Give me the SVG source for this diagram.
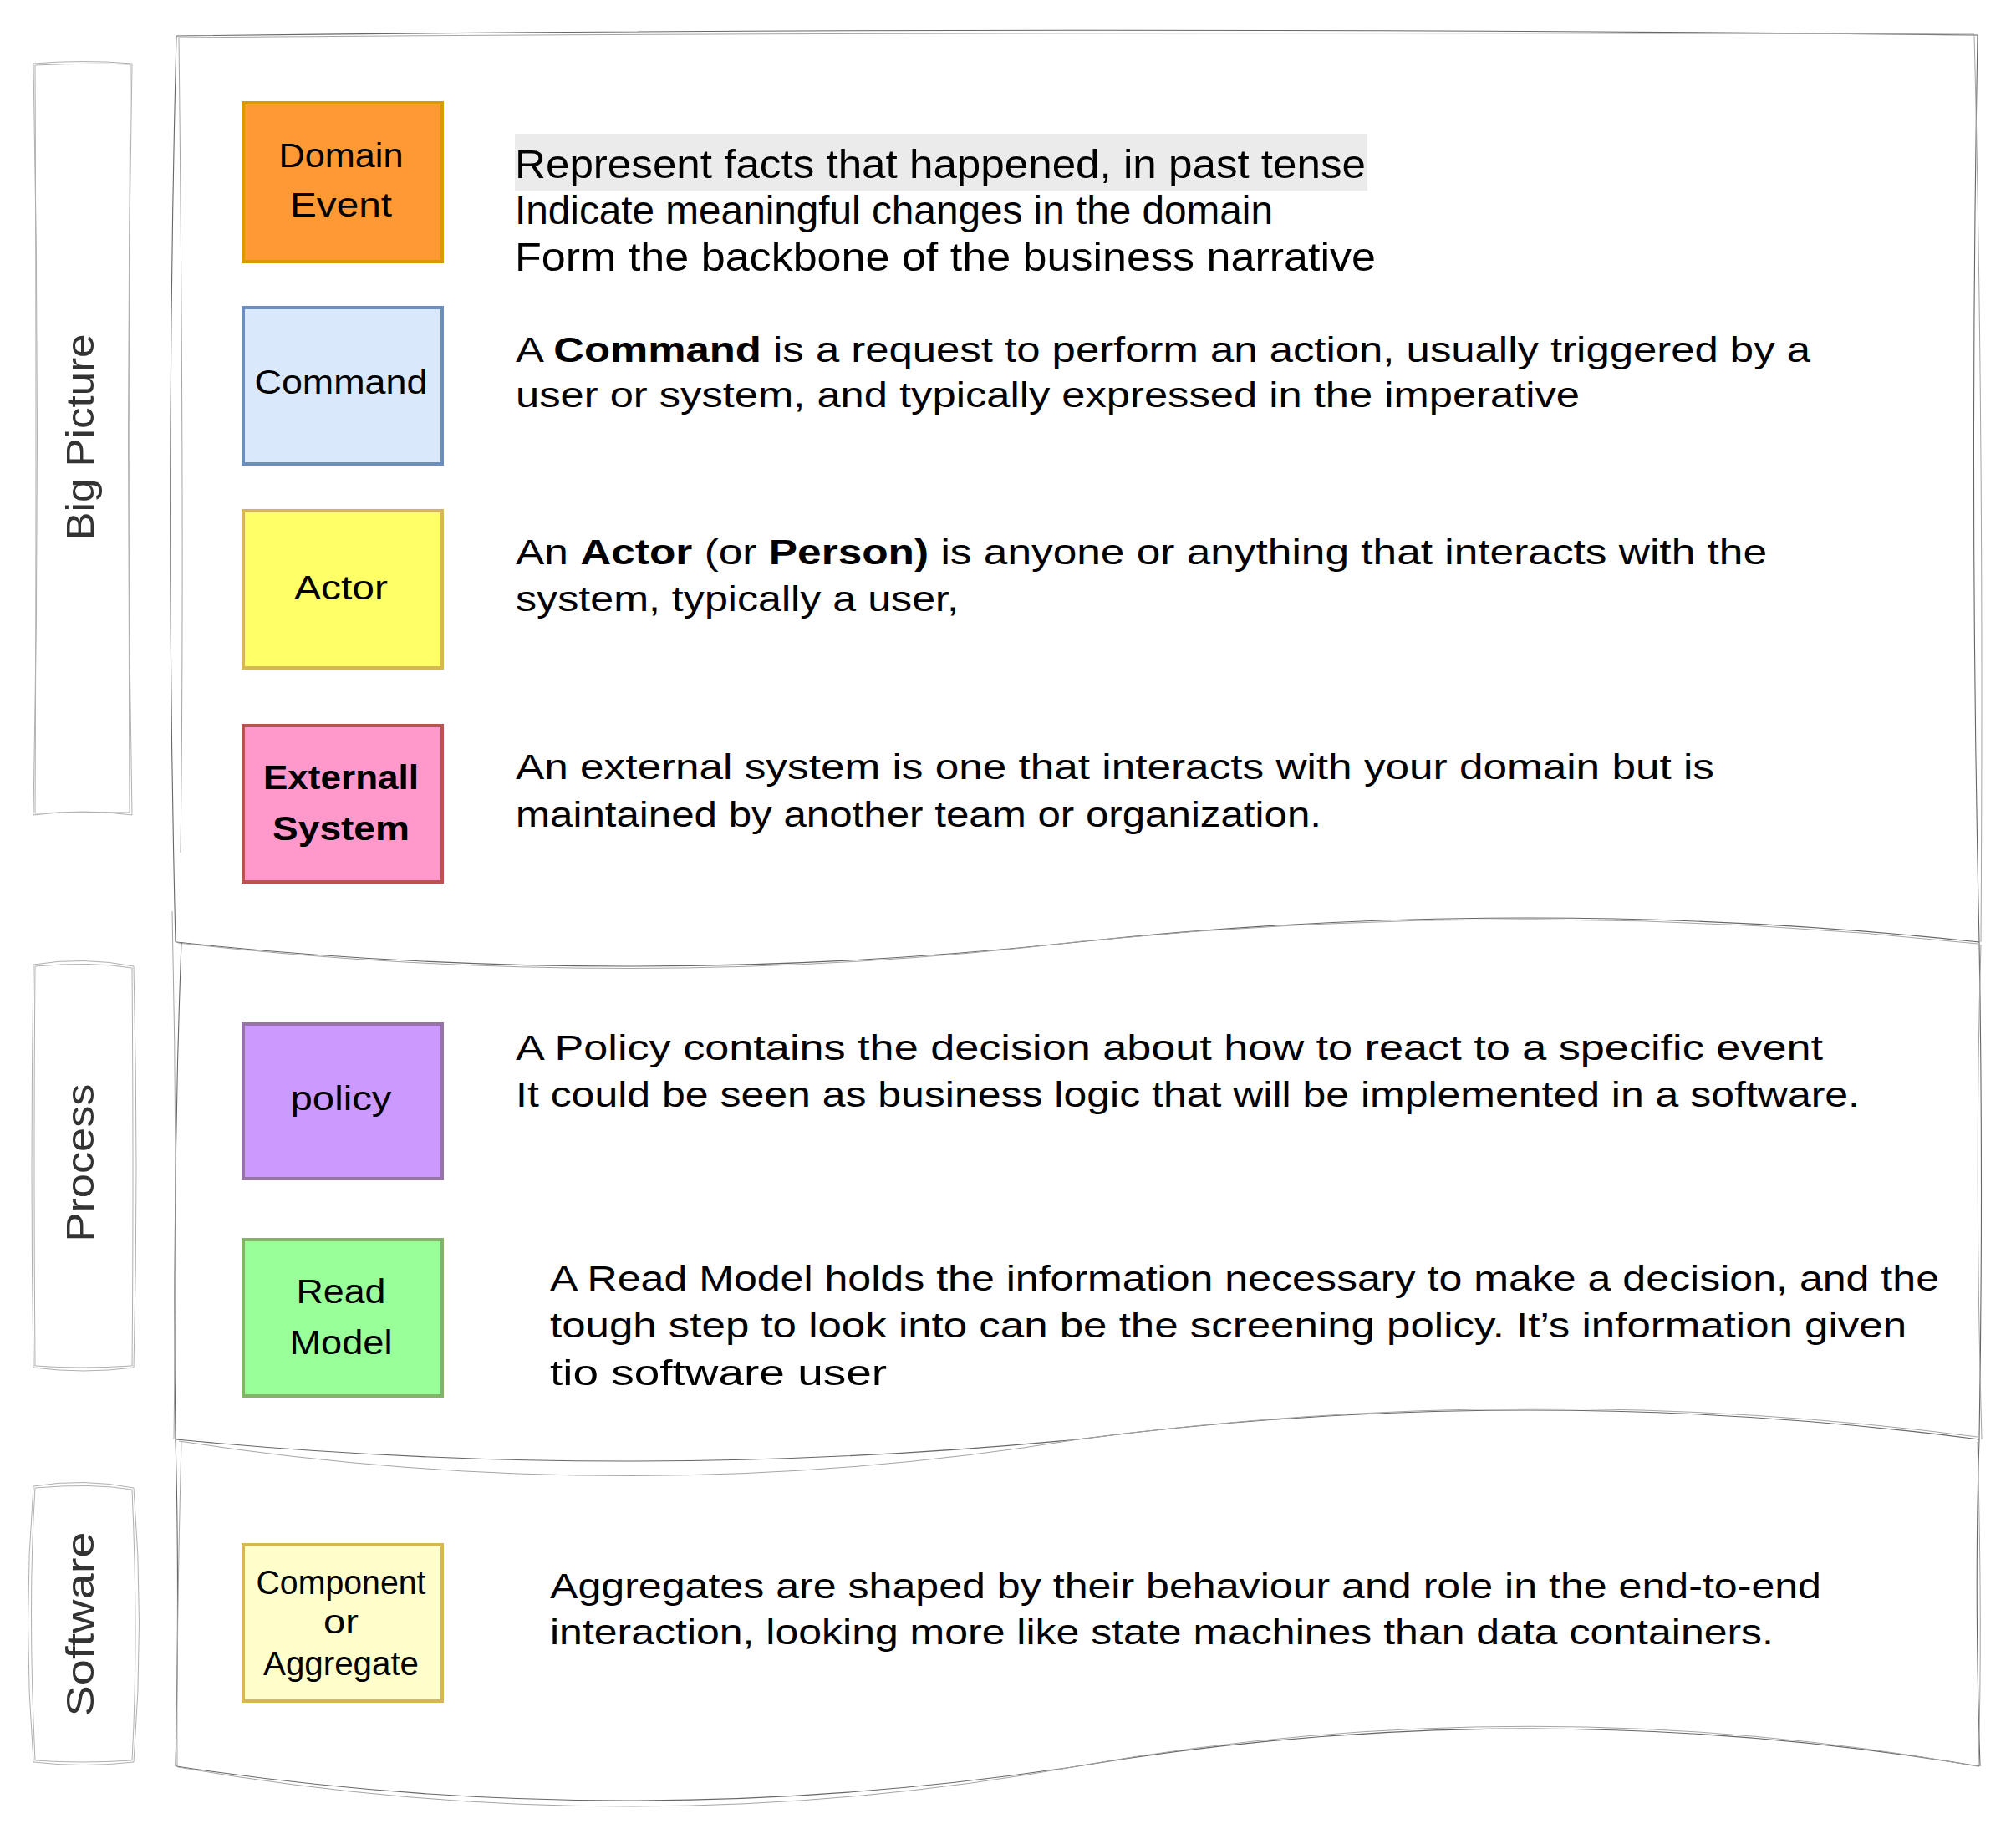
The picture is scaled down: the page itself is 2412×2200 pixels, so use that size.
<svg xmlns="http://www.w3.org/2000/svg" width="2412" height="2200" viewBox="0 0 2412 2200">
  <style>
    .sk { fill: none; stroke: #666; stroke-width: 1.1; }
    .sk2 { fill: none; stroke: #a5a5a5; stroke-width: 1; }
    .lane { fill: none; stroke: #b0b0b0; stroke-width: 1; }
    .lane-t { font-family: "Liberation Sans", Arial, sans-serif; font-size: 46px; fill: #333; }
    .lbl { font-family: "Liberation Sans", Arial, sans-serif; font-size: 40px; fill: #000; text-anchor: middle; }
    .desc { font-family: "Liberation Sans", Arial, sans-serif; font-size: 42px; fill: #000; }
    .desc-n { font-family: "Liberation Sans Narrow", "Liberation Sans", Arial, sans-serif; font-size: 48px; fill: #000; }
    .b { font-weight: bold; }
    .card { stroke-width: 4; }
  </style>

  <rect width="2412" height="2200" fill="#ffffff"/>

  <!-- swimlane frames: three stacked document-style sections -->
  <g id="frames">
    <!-- Big Picture section -->
    <path class="sk" d="M211,43 Q1290,30 2366,42"/>
    <path class="sk2" d="M213,45 Q1100,37 2362,41"/>
    <path class="sk" d="M211,43 Q197,600 210,1127"/>
    <path class="sk2" d="M214,46 Q221,650 216,1020"/>
    <path class="sk" d="M2366,42 Q2356,600 2368,1127"/>
    <path class="sk2" d="M2362,41 Q2374,520 2370,1127"/>
    <path class="sk" d="M211,1127 Q750,1185 1289,1127 Q1829,1069 2368,1127"/>
    <path class="sk2" d="M213,1128 Q760,1190 1295,1126 Q1835,1072 2366,1129"/>

    <!-- Process section -->
    <path class="sk" d="M217,1127 Q206,1420 210,1722"/>
    <path class="sk2" d="M206,1090 Q213,1400 208,1722"/>
    <path class="sk" d="M2368,1127 Q2373,1420 2368,1722"/>
    <path class="sk2" d="M2370,1130 Q2362,1400 2371,1722"/>
    <path class="sk" d="M211,1722 Q750,1774 1289,1722 Q1829,1652 2368,1722"/>
    <path class="sk2" d="M214,1724 Q760,1808 1290,1722 Q1835,1650 2366,1719"/>

    <!-- Software section -->
    <path class="sk" d="M210,1722 Q215,1900 210,2113"/>
    <path class="sk2" d="M217,1725 Q211,1950 212,2113"/>
    <path class="sk" d="M2368,1722 Q2362,1900 2369,2113"/>
    <path class="sk2" d="M2366,1725 Q2372,1950 2367,2113"/>
    <path class="sk" d="M211,2113 Q750,2195 1289,2113 Q1829,2023 2368,2113"/>
    <path class="sk2" d="M213,2114 Q760,2209 1294,2112 Q1835,2018 2366,2113"/>
  </g>

  <!-- lane headers -->
  <g id="lane-big-picture">
    <path class="lane" d="M40,76 Q100,71 158,76 Q149,520 158,975 Q100,967 40,975 Q49,520 40,76 Z"/>
    <path class="lane" d="M42,78 Q110,75 156,77 Q153,500 155,972 Q95,971 42,973 Q44,540 42,78 Z"/>
    <text class="lane-t" transform="translate(112,523) rotate(-90)" text-anchor="middle" textLength="247" lengthAdjust="spacingAndGlyphs">Big Picture</text>
  </g>
  <g id="lane-process">
    <path class="lane" d="M40,1154 Q100,1144 160,1156 Q166,1400 160,1636 Q100,1644 40,1636 Q36,1400 40,1154 Z"/>
    <path class="lane" d="M42,1156 Q110,1150 158,1158 Q160,1420 158,1634 Q95,1638 42,1634 Q40,1380 42,1156 Z"/>
    <text class="lane-t" transform="translate(112,1391) rotate(-90)" text-anchor="middle" textLength="189" lengthAdjust="spacingAndGlyphs">Process</text>
  </g>
  <g id="lane-software">
    <path class="lane" d="M40,1778 Q100,1768 160,1780 Q173,1940 160,2108 Q100,2115 40,2108 Q27,1940 40,1778 Z"/>
    <path class="lane" d="M42,1780 Q110,1774 158,1782 Q166,1960 158,2106 Q95,2110 42,2106 Q33,1920 42,1780 Z"/>
    <text class="lane-t" transform="translate(112,1943) rotate(-90)" text-anchor="middle" textLength="221" lengthAdjust="spacingAndGlyphs">Software</text>
  </g>

  <!-- Domain Event -->
  <g id="node-domain-event">
    <rect class="card" x="291" y="123" width="238" height="190" fill="#ff9933" stroke="#d79b00"/>
    <text class="lbl" x="408" y="200" textLength="149" lengthAdjust="spacingAndGlyphs" font-size="42">Domain</text>
    <text class="lbl" x="408" y="259" textLength="122" lengthAdjust="spacingAndGlyphs" font-size="42">Event</text>
  </g>
  <g id="desc-domain-event">
    <rect x="616" y="160" width="1020" height="68" fill="#ebebeb"/>
    <text class="desc-n" x="616" y="213" textLength="1018" lengthAdjust="spacingAndGlyphs">Represent facts that happened, in past tense</text>
    <text class="desc-n" x="616" y="268" textLength="907" lengthAdjust="spacingAndGlyphs">Indicate meaningful changes in the domain</text>
    <text class="desc-n" x="616" y="324" textLength="1030" lengthAdjust="spacingAndGlyphs">Form the backbone of the business narrative</text>
  </g>

  <!-- Command -->
  <g id="node-command">
    <rect class="card" x="291" y="368" width="238" height="187" fill="#dae8fc" stroke="#6c8ebf"/>
    <text class="lbl" x="408" y="471" textLength="207" lengthAdjust="spacingAndGlyphs" font-size="42">Command</text>
  </g>
  <g id="desc-command">
    <text class="desc" x="617" y="433" textLength="1549" lengthAdjust="spacingAndGlyphs">A <tspan class="b">Command</tspan> is a request to perform an action, usually triggered by a</text>
    <text class="desc" x="617" y="487" textLength="1273" lengthAdjust="spacingAndGlyphs">user or system, and typically expressed in the imperative</text>
  </g>

  <!-- Actor -->
  <g id="node-actor">
    <rect class="card" x="291" y="611" width="238" height="188" fill="#ffff66" stroke="#d6b656"/>
    <text class="lbl" x="408" y="717" textLength="112" lengthAdjust="spacingAndGlyphs" font-size="30">Actor</text>
  </g>
  <g id="desc-actor">
    <text class="desc" x="617" y="675" textLength="1497" lengthAdjust="spacingAndGlyphs">An <tspan class="b">Actor</tspan> (or <tspan class="b">Person)</tspan> is anyone or anything that interacts with the</text>
    <text class="desc" x="617" y="731" textLength="530" lengthAdjust="spacingAndGlyphs">system, typically a user,</text>
  </g>

  <!-- External System -->
  <g id="node-external-system">
    <rect class="card" x="291" y="868" width="238" height="187" fill="#ff99cc" stroke="#b85450"/>
    <text class="lbl b" x="408" y="944" textLength="186" lengthAdjust="spacingAndGlyphs" font-size="42">Externall</text>
    <text class="lbl b" x="408" y="1005" textLength="164" lengthAdjust="spacingAndGlyphs" font-size="42">System</text>
  </g>
  <g id="desc-external-system">
    <text class="desc" x="617" y="932" textLength="1434" lengthAdjust="spacingAndGlyphs">An external system is one that interacts with your domain but is</text>
    <text class="desc" x="617" y="989" textLength="964" lengthAdjust="spacingAndGlyphs">maintained by another team or organization.</text>
  </g>

  <!-- Policy -->
  <g id="node-policy">
    <rect class="card" x="291" y="1225" width="238" height="185" fill="#cc99ff" stroke="#9673a6"/>
    <text class="lbl" x="408" y="1328" textLength="121" lengthAdjust="spacingAndGlyphs" font-size="42">policy</text>
  </g>
  <g id="desc-policy">
    <text class="desc" x="617" y="1268" textLength="1564" lengthAdjust="spacingAndGlyphs">A Policy contains the decision about how to react to a specific event</text>
    <text class="desc" x="617" y="1324" textLength="1608" lengthAdjust="spacingAndGlyphs">It could be seen as business logic that will be implemented in a software.</text>
  </g>

  <!-- Read Model -->
  <g id="node-read-model">
    <rect class="card" x="291" y="1483" width="238" height="187" fill="#99ff99" stroke="#82b366"/>
    <text class="lbl" x="408" y="1559" textLength="107" lengthAdjust="spacingAndGlyphs" font-size="40">Read</text>
    <text class="lbl" x="408" y="1620" textLength="123" lengthAdjust="spacingAndGlyphs" font-size="40">Model</text>
  </g>
  <g id="desc-read-model">
    <text class="desc" x="658" y="1544" textLength="1662" lengthAdjust="spacingAndGlyphs">A Read Model holds the information necessary to make a decision, and the</text>
    <text class="desc" x="658" y="1600" textLength="1623" lengthAdjust="spacingAndGlyphs">tough step to look into can be the screening policy. It’s information given</text>
    <text class="desc" x="658" y="1657" textLength="403" lengthAdjust="spacingAndGlyphs">tio software user</text>
  </g>

  <!-- Component or Aggregate -->
  <g id="node-aggregate">
    <rect class="card" x="291" y="1848" width="238" height="187" fill="#ffffcc" stroke="#d6b656"/>
    <text class="lbl" x="408" y="1907" textLength="203" lengthAdjust="spacingAndGlyphs" font-size="35">Component</text>
    <text class="lbl" x="408" y="1954" textLength="42" lengthAdjust="spacingAndGlyphs" font-size="35">or</text>
    <text class="lbl" x="408" y="2004" textLength="186" lengthAdjust="spacingAndGlyphs" font-size="35">Aggregate</text>
  </g>
  <g id="desc-aggregate">
    <text class="desc" x="658" y="1912" textLength="1521" lengthAdjust="spacingAndGlyphs">Aggregates are shaped by their behaviour and role in the end-to-end</text>
    <text class="desc" x="658" y="1967" textLength="1464" lengthAdjust="spacingAndGlyphs">interaction, looking more like state machines than data containers.</text>
  </g>
</svg>
